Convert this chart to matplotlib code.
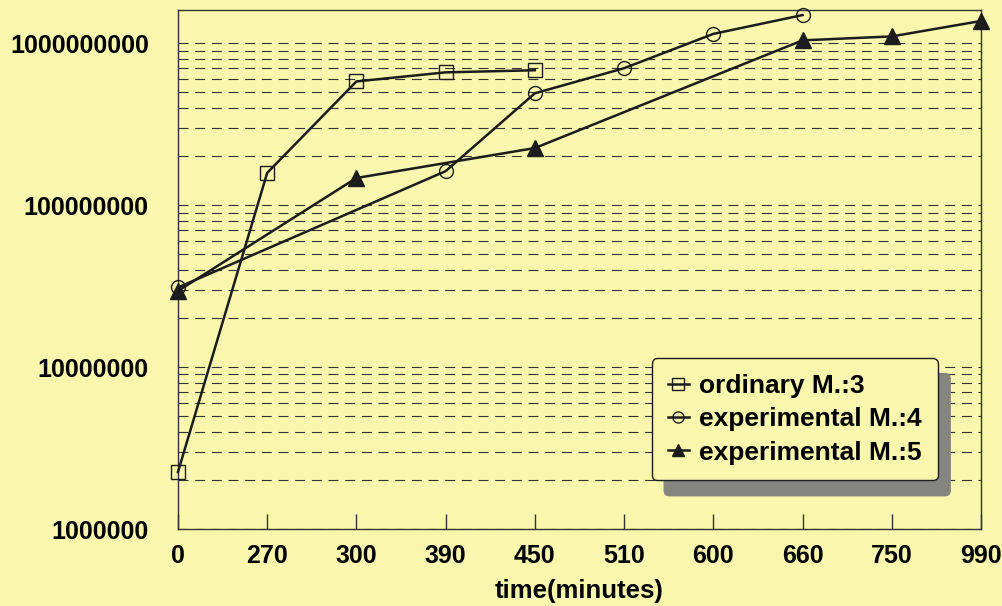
import matplotlib
matplotlib.use("Agg")
import matplotlib.pyplot as plt
import numpy as np
from matplotlib.ticker import FixedLocator, NullFormatter

# category labels on the x axis (minutes)
time_labels = ["0", "270", "300", "390", "450", "510", "600", "660", "750", "990"]

# ordinary M.:3  (measured at 0, 270, 300, 390, 450)
ord3_idx = [0, 1, 2, 3, 4]
ord3_val = [2.25e6, 1.58e8, 5.8e8, 6.6e8, 6.8e8]

# experimental M.:4  (measured at 0, 390, 450, 510, 600, 660)
exp4_idx = [0, 3, 4, 5, 6, 7]
exp4_val = [3.1e7, 1.62e8, 4.9e8, 7.0e8, 1.14e9, 1.49e9]

# experimental M.:5  (measured at 0, 300, 450, 660, 750, 990)
exp5_idx = [0, 2, 4, 7, 8, 9]
exp5_val = [2.95e7, 1.47e8, 2.25e8, 1.04e9, 1.1e9, 1.37e9]

bg = "#f9f6ae"
ink = "#1c1c1c"

plt.rcParams["font.family"] = ["Liberation Sans", "DejaVu Sans"]
plt.rcParams["font.weight"] = "bold"

fig = plt.figure(figsize=(10.02, 6.06), dpi=100, facecolor=bg)
ax = fig.add_axes([0.1776, 0.127, 0.8014, 0.8564])
ax.set_facecolor(bg)

ax.plot(ord3_idx, ord3_val, color=ink, lw=1.8, marker="s", ms=10,
        mfc="none", mec=ink, mew=1.0, label="ordinary M.:3", clip_on=False, zorder=3)
ax.plot(exp4_idx, exp4_val, color=ink, lw=1.8, marker="o", ms=10,
        mfc="none", mec=ink, mew=1.0, label="experimental M.:4", clip_on=False, zorder=3)
ax.plot(exp5_idx, exp5_val, color=ink, lw=1.8, marker="^", ms=11,
        mfc=ink, mec=ink, label="experimental M.:5", clip_on=False, zorder=3)

ax.set_yscale("log")
ax.set_ylim(1e6, 1.6e9)
ax.set_xlim(0, 9)

decades = [1e6, 1e7, 1e8, 1e9]
ax.yaxis.set_major_locator(FixedLocator(decades))
ax.set_yticklabels([str(int(d)) for d in decades])
minors = [m * d for d in decades for m in range(2, 10)]
ax.yaxis.set_minor_locator(FixedLocator(minors))
ax.yaxis.set_minor_formatter(NullFormatter())
ax.tick_params(axis="y", which="both", length=0, pad=21, labelsize=18)

ax.set_xticks(range(len(time_labels)))
ax.set_xticklabels(time_labels)
ax.tick_params(axis="x", direction="in", length=11, width=1, color="#333333",
               pad=11, labelsize=18)

ax.grid(axis="y", which="both", linestyle=(0, (9, 6)), color="#333333", lw=0.8)

for s in ax.spines.values():
    s.set_color("#333333")
    s.set_linewidth(1)

ax.set_xlabel("time(minutes)", fontsize=18.5, fontweight="bold", labelpad=8)

leg = ax.legend(loc="upper left", bbox_to_anchor=(0.59, 0.329), borderaxespad=0,
                fancybox=True, facecolor=bg, edgecolor=ink, framealpha=1,
                fontsize=19, handlelength=0.8, handletextpad=0.4,
                labelspacing=0.35, borderpad=0.6,
                shadow={"ox": 9, "oy": -11, "color": "#858580", "alpha": 1})
leg.get_frame().set_linewidth(1)
for h in leg.legend_handles:
    h.set_markersize(8)

fig.savefig("out.png", dpi=100, facecolor=bg)
